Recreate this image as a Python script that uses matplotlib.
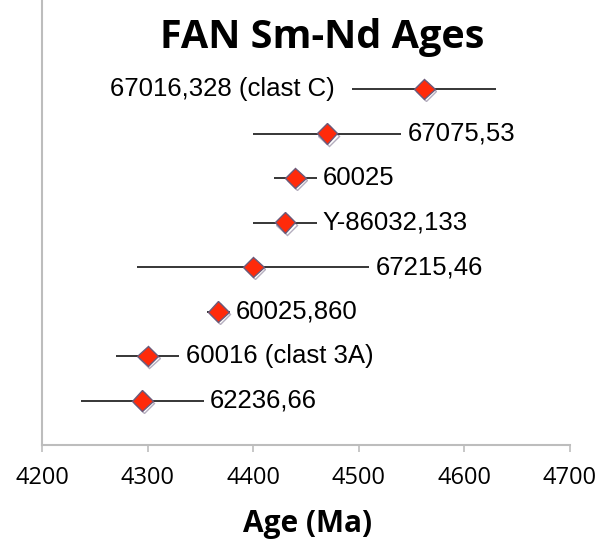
import matplotlib
matplotlib.use("Agg")
import matplotlib.pyplot as plt
import matplotlib.patheffects as pe

# --- data ---
samples = ["62236,66", "60016 (clast 3A)", "60025,860", "67215,46",
           "Y-86032,133", "60025", "67075,53", "67016,328 (clast C)"]
ages = [4295, 4300, 4367, 4400, 4430, 4440, 4470, 4562]
errors = [58, 30, 11, 110, 30, 20, 70, 68]
label_side = ["right", "right", "right", "right", "right", "right", "right", "left"]
x_ticks = [4200, 4300, 4400, 4500, 4600, 4700]

fig = plt.figure(figsize=(6.06, 5.39), dpi=100)
ax = fig.add_axes([42 / 606, 1 - 445 / 539, 528 / 606, 445 / 539])

ypos = list(range(1, len(samples) + 1))

ax.errorbar(ages, ypos, xerr=errors, fmt="none", ecolor="black",
            elinewidth=1.1, capsize=0, zorder=2)
ax.plot(ages, ypos, linestyle="none", marker="D", markersize=10.5,
        markerfacecolor="#FF2A0A", markeredgecolor="#6B5A7A", markeredgewidth=1.0,
        zorder=3,
        path_effects=[pe.SimpleLineShadow(offset=(1.2, -1.5), shadow_color="#5A4A70", alpha=0.45),
                      pe.Normal()])

for name, a, e, y, side in zip(samples, ages, errors, ypos, label_side):
    if side == "right":
        end = max(a + e, a + 7)
        ax.annotate(name, xy=(end, y), xytext=(4.5, 0), textcoords="offset points",
                    ha="left", va="center", fontsize=18.5, family="Liberation Sans")
    else:
        ax.annotate(name, xy=(a - e, y), xytext=(-13, 0), textcoords="offset points",
                    ha="right", va="center", fontsize=18.5, family="Liberation Sans")

ax.set_xlim(4200, 4700)
ax.set_ylim(0, 10)
ax.set_xticks(x_ticks)
ax.set_xticklabels([str(t) for t in x_ticks], family="Open Sans", fontsize=17)
ax.set_yticks([])
ax.tick_params(axis="x", direction="out", length=5, width=1.2, color="#BDBDBD", pad=10)

for s in ["top", "right"]:
    ax.spines[s].set_visible(False)
for s in ["left", "bottom"]:
    ax.spines[s].set_color("#BDBDBD")
    ax.spines[s].set_linewidth(1.5)

ax.text(0.531, 0.892, "FAN Sm-Nd Ages", transform=ax.transAxes, ha="center", va="baseline",
        family="Open Sans", fontweight="bold", fontsize=28.5)
fig.text(307.5 / 606, 1 - 524 / 539, "Age (Ma)", ha="center", va="center",
         family="Open Sans", fontweight="bold", fontsize=21.5)

fig.savefig("out.png", dpi=100)
